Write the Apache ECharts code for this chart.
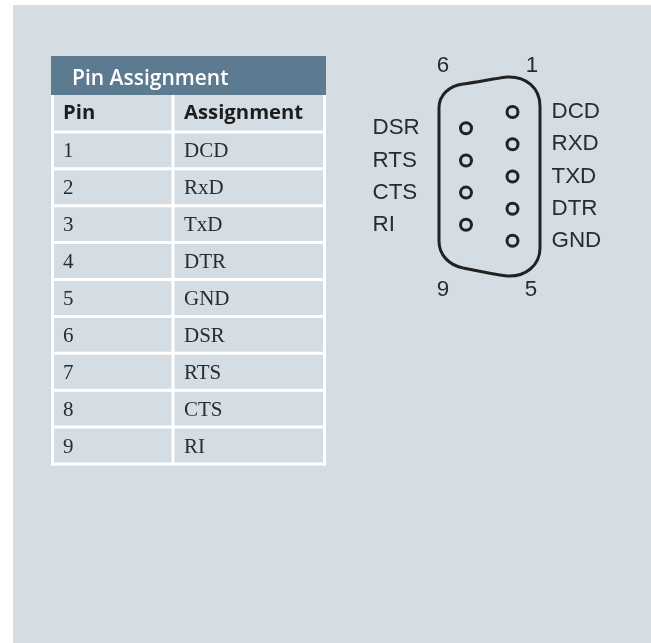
<!DOCTYPE html>
<html>
<head>
<meta charset="utf-8">
<style>
  html, body { margin: 0; padding: 0; background: #fff; }
  #main { width: 651px; height: 643px; }
</style>
<script src="https://cdn.jsdelivr.net/npm/echarts@6/dist/echarts.min.js"></script>
</head>
<body>
<div id="main"></div>
<script>
// table
var tableTitle = 'Pin Assignment'
var columnNames = ['Pin', 'Assignment']
var pinNumbers = ['1', '2', '3', '4', '5', '6', '7', '8', '9']
var assignments = ['DCD', 'RxD', 'TxD', 'DTR', 'GND', 'DSR', 'RTS', 'CTS', 'RI']

// connector: pin columns, pin rows and names
var rightPinNames = ['DCD', 'RXD', 'TXD', 'DTR', 'GND']
var rightPinX = [512.5, 512.5, 512.5, 512.5, 512.5]
var rightPinY = [112, 144.3, 176.5, 208.7, 240.8]
var leftPinNames = ['DSR', 'RTS', 'CTS', 'RI']
var leftPinX = [466, 466, 466, 466]
var leftPinY = [128.3, 160.5, 192.6, 224.8]
var cornerNames = ['6', '1', '9', '5']
var cornerX = [443, 532, 443, 531]
var cornerY = [66, 66, 290, 290]
// shell outline, [x1, y1, cx1, cy1, cx2, cy2, x2, y2]
var shellCurves = [
  [439, 108, 439, 95, 449, 86, 463, 84],
  [463, 84, 478, 82, 492, 79, 507, 77],
  [507, 77, 526, 76, 540, 88, 540, 106],
  [540, 248, 540, 265, 526, 277, 507, 276],
  [507, 276, 492, 274, 478, 271, 463, 268],
  [463, 268, 449, 265, 439, 255, 439, 241]
]
var shellSides = [
  [439, 108, 439, 241],
  [540, 106, 540, 248]
]

var COL_WIDTH = 122
var BAND = '#5d7b90'
var PANEL = '#d5dde4'
var INK = '#2b2b2b'
var SANS = '"Liberation Sans", Arial, sans-serif'
var HEAD = '"Open Sans", "Noto Sans", sans-serif'
var SERIF = '"Liberation Serif", serif'

var tableRows = [columnNames].concat(pinNumbers.map(function (p, i) {
  return [p, assignments[i]]
}))

function renderCell (params, api) {
  var i = params.dataIndex
  var row = tableRows[i]
  var band = api.size([0, 1])[1]
  var mid = api.coord([0, i])
  var left = mid[0]
  var top = mid[1] - band / 2
  var bottom = top + band
  var width = params.coordSys.width
  var lineStyle = { stroke: '#fff', lineWidth: 3 }
  var head = i === 0
  var font = head ? HEAD : SERIF
  var cell = function (text, x) {
    return {
      type: 'text',
      style: {
        text: text,
        x: x,
        y: mid[1] + (head ? 0 : 1.5),
        verticalAlign: 'middle',
        fill: head ? '#1d1d1d' : INK,
        fontFamily: font,
        fontWeight: head ? 700 : 400,
        fontSize: head ? 20.3 : 21
      }
    }
  }
  return {
    type: 'group',
    children: [
      { type: 'line', shape: { x1: left + 1.5, y1: top, x2: left + 1.5, y2: bottom + 1.5 }, style: lineStyle },
      { type: 'line', shape: { x1: left + COL_WIDTH, y1: top, x2: left + COL_WIDTH, y2: bottom + 1.5 }, style: lineStyle },
      { type: 'line', shape: { x1: left + width - 1.5, y1: top, x2: left + width - 1.5, y2: bottom + 1.5 }, style: lineStyle },
      { type: 'line', shape: { x1: left, y1: bottom, x2: left + width, y2: bottom }, style: lineStyle },
      cell(row[0], left + 12),
      cell(row[1], left + 133)
    ]
  }
}

function renderShell (params, api) {
  var style = { stroke: '#222', lineWidth: 3, fill: null }
  var children = []
  shellCurves.forEach(function (c) {
    var a = api.coord([c[0], c[1]])
    var b = api.coord([c[2], c[3]])
    var d = api.coord([c[4], c[5]])
    var e = api.coord([c[6], c[7]])
    children.push({
      type: 'bezierCurve',
      shape: { x1: a[0], y1: a[1], cpx1: b[0], cpy1: b[1], cpx2: d[0], cpy2: d[1], x2: e[0], y2: e[1] },
      style: style
    })
  })
  shellSides.forEach(function (s) {
    var a = api.coord([s[0], s[1]])
    var b = api.coord([s[2], s[3]])
    children.push({
      type: 'line',
      shape: { x1: a[0], y1: a[1], x2: b[0], y2: b[1] },
      style: style
    })
  })
  return { type: 'group', children: children }
}

function nameSeries (names, xs, ys, position) {
  return {
    type: 'scatter',
    xAxisIndex: 1,
    yAxisIndex: 1,
    symbol: 'circle',
    symbolSize: 1,
    silent: true,
    // scatter defaults to 0.8 opacity, which also fades the label
    itemStyle: { color: 'rgba(0,0,0,0)', opacity: 1 },
    data: names.map(function (n, i) {
      return { value: [xs[i], ys[i]], name: n }
    }),
    label: {
      show: true,
      position: position,
      distance: 0,
      formatter: '{b}',
      color: '#2b2b2b',
      opacity: 1,
      fontFamily: SANS,
      fontSize: 22.4
    }
  }
}

function pinSeries (xs, ys) {
  return {
    type: 'scatter',
    xAxisIndex: 1,
    yAxisIndex: 1,
    symbol: 'circle',
    symbolSize: 11,
    silent: true,
    itemStyle: { color: PANEL, borderColor: '#222', borderWidth: 3, opacity: 1 },
    data: xs.map(function (x, i) { return [x, ys[i]] })
  }
}

var myChart = echarts.init(document.getElementById('main'), null, { renderer: 'canvas' })
var option = {
  animation: false,
  backgroundColor: '#fff',
  graphic: [
    { type: 'rect', z: -10, shape: { x: 13, y: 5, width: 638, height: 638 }, style: { fill: PANEL } },
    { type: 'rect', z: -9, shape: { x: 51, y: 56, width: 275, height: 39 }, style: { fill: BAND } }
  ],
  title: {
    text: tableTitle,
    left: 72,
    top: 69,
    padding: 0,
    textStyle: { color: '#fff', fontFamily: HEAD, fontWeight: 600, fontSize: 21 }
  },
  grid: [
    { left: 51, top: 95, width: 275, height: 369, containLabel: false },
    { left: 0, top: 0, width: 651, height: 643 }
  ],
  xAxis: [
    { gridIndex: 0, type: 'value', min: 0, max: 275, show: false },
    { gridIndex: 1, type: 'value', min: 0, max: 651, show: false }
  ],
  yAxis: [
    { gridIndex: 0, type: 'category', inverse: true, show: false, data: tableRows.map(function (r) { return r[0] }) },
    { gridIndex: 1, type: 'value', min: 0, max: 643, inverse: true, show: false }
  ],
  series: [
    {
      type: 'custom',
      xAxisIndex: 0,
      yAxisIndex: 0,
      silent: true,
      clip: false,
      renderItem: renderCell,
      data: tableRows.map(function (r, i) { return [0, i] })
    },
    {
      type: 'custom',
      xAxisIndex: 1,
      yAxisIndex: 1,
      silent: true,
      clip: false,
      renderItem: renderShell,
      data: [[0, 0]]
    },
    pinSeries(rightPinX, rightPinY),
    pinSeries(leftPinX, leftPinY),
    nameSeries(rightPinNames, rightPinX.map(function () { return 551 }), rightPinY, 'right'),
    nameSeries(leftPinNames, leftPinX.map(function () { return 372 }), leftPinY, 'right'),
    nameSeries(cornerNames, cornerX, cornerY, 'inside')
  ]
}
myChart.setOption(option)
</script>
</body>
</html>
